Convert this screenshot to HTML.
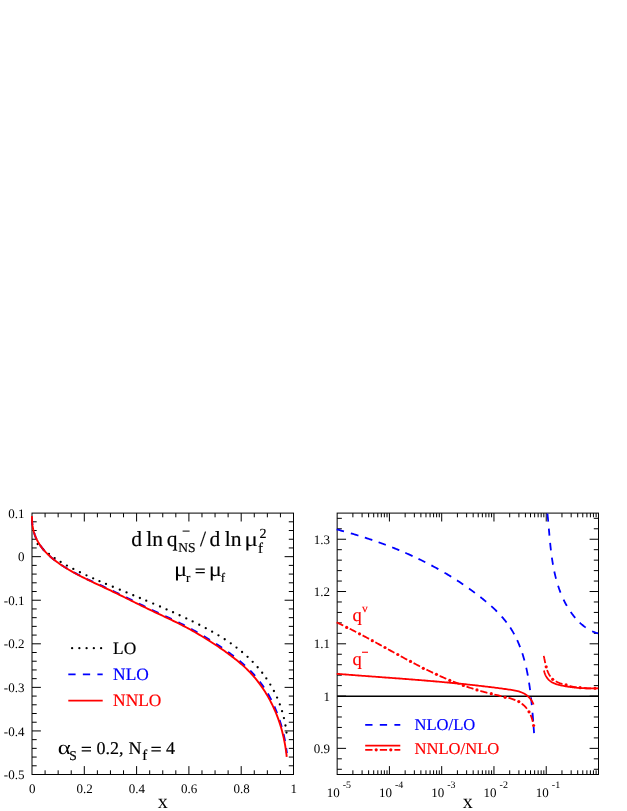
<!DOCTYPE html><html><head><meta charset="utf-8"><title>plot</title><style>
html,body{margin:0;padding:0;background:#fff;}svg{display:block;will-change:transform;}text{font-family:"Liberation Serif",serif;text-rendering:geometricPrecision;}
</style></head><body>
<svg width="627" height="811" viewBox="0 0 627 811">
<rect width="627" height="811" fill="#fff"/>
<g fill="none" stroke="#000" stroke-width="1">
<path d="M84.3 774.5v-8.4 M84.3 513.1v8.4M136.6 774.5v-8.4 M136.6 513.1v8.4M188.9 774.5v-8.4 M188.9 513.1v8.4M241.2 774.5v-8.4 M241.2 513.1v8.4M45.08 774.5v-4.2 M45.08 513.1v4.2M58.15 774.5v-4.2 M58.15 513.1v4.2M71.22 774.5v-4.2 M71.22 513.1v4.2M97.38 774.5v-4.2 M97.38 513.1v4.2M110.45 774.5v-4.2 M110.45 513.1v4.2M123.53 774.5v-4.2 M123.53 513.1v4.2M149.68 774.5v-4.2 M149.68 513.1v4.2M162.75 774.5v-4.2 M162.75 513.1v4.2M175.82 774.5v-4.2 M175.82 513.1v4.2M201.97 774.5v-4.2 M201.97 513.1v4.2M215.05 774.5v-4.2 M215.05 513.1v4.2M228.12 774.5v-4.2 M228.12 513.1v4.2M254.28 774.5v-4.2 M254.28 513.1v4.2M267.35 774.5v-4.2 M267.35 513.1v4.2M280.43 774.5v-4.2 M280.43 513.1v4.2M32 556.67h8.9 M293.5 556.67h-8.9M32 600.23h8.9 M293.5 600.23h-8.9M32 643.8h8.9 M293.5 643.8h-8.9M32 687.37h8.9 M293.5 687.37h-8.9M32 730.93h8.9 M293.5 730.93h-8.9M32 521.81h4.7 M293.5 521.81h-4.7M32 530.53h4.7 M293.5 530.53h-4.7M32 539.24h4.7 M293.5 539.24h-4.7M32 547.95h4.7 M293.5 547.95h-4.7M32 565.38h4.7 M293.5 565.38h-4.7M32 574.09h4.7 M293.5 574.09h-4.7M32 582.81h4.7 M293.5 582.81h-4.7M32 591.52h4.7 M293.5 591.52h-4.7M32 608.95h4.7 M293.5 608.95h-4.7M32 617.66h4.7 M293.5 617.66h-4.7M32 626.37h4.7 M293.5 626.37h-4.7M32 635.09h4.7 M293.5 635.09h-4.7M32 652.51h4.7 M293.5 652.51h-4.7M32 661.23h4.7 M293.5 661.23h-4.7M32 669.94h4.7 M293.5 669.94h-4.7M32 678.65h4.7 M293.5 678.65h-4.7M32 696.08h4.7 M293.5 696.08h-4.7M32 704.79h4.7 M293.5 704.79h-4.7M32 713.51h4.7 M293.5 713.51h-4.7M32 722.22h4.7 M293.5 722.22h-4.7M32 739.65h4.7 M293.5 739.65h-4.7M32 748.36h4.7 M293.5 748.36h-4.7M32 757.07h4.7 M293.5 757.07h-4.7M32 765.79h4.7 M293.5 765.79h-4.7"/>
<rect x="32" y="513.1" width="261.5" height="261.4"/>
<path d="M389.42 774.5v-8.4 M389.42 513.1v8.4M441.69 774.5v-8.4 M441.69 513.1v8.4M493.96 774.5v-8.4 M493.96 513.1v8.4M546.23 774.5v-8.4 M546.23 513.1v8.4M352.88 774.5v-4.2 M352.88 513.1v4.2M362.09 774.5v-4.2 M362.09 513.1v4.2M368.62 774.5v-4.2 M368.62 513.1v4.2M373.69 774.5v-4.2 M373.69 513.1v4.2M377.82 774.5v-4.2 M377.82 513.1v4.2M381.32 774.5v-4.2 M381.32 513.1v4.2M384.35 774.5v-4.2 M384.35 513.1v4.2M387.03 774.5v-4.2 M387.03 513.1v4.2M405.15 774.5v-4.2 M405.15 513.1v4.2M414.36 774.5v-4.2 M414.36 513.1v4.2M420.89 774.5v-4.2 M420.89 513.1v4.2M425.96 774.5v-4.2 M425.96 513.1v4.2M430.09 774.5v-4.2 M430.09 513.1v4.2M433.59 774.5v-4.2 M433.59 513.1v4.2M436.62 774.5v-4.2 M436.62 513.1v4.2M439.3 774.5v-4.2 M439.3 513.1v4.2M457.42 774.5v-4.2 M457.42 513.1v4.2M466.63 774.5v-4.2 M466.63 513.1v4.2M473.16 774.5v-4.2 M473.16 513.1v4.2M478.23 774.5v-4.2 M478.23 513.1v4.2M482.36 774.5v-4.2 M482.36 513.1v4.2M485.86 774.5v-4.2 M485.86 513.1v4.2M488.89 774.5v-4.2 M488.89 513.1v4.2M491.57 774.5v-4.2 M491.57 513.1v4.2M509.69 774.5v-4.2 M509.69 513.1v4.2M518.9 774.5v-4.2 M518.9 513.1v4.2M525.43 774.5v-4.2 M525.43 513.1v4.2M530.5 774.5v-4.2 M530.5 513.1v4.2M534.63 774.5v-4.2 M534.63 513.1v4.2M538.13 774.5v-4.2 M538.13 513.1v4.2M541.16 774.5v-4.2 M541.16 513.1v4.2M543.84 774.5v-4.2 M543.84 513.1v4.2M561.96 774.5v-4.2 M561.96 513.1v4.2M571.17 774.5v-4.2 M571.17 513.1v4.2M577.7 774.5v-4.2 M577.7 513.1v4.2M582.77 774.5v-4.2 M582.77 513.1v4.2M586.9 774.5v-4.2 M586.9 513.1v4.2M590.4 774.5v-4.2 M590.4 513.1v4.2M593.43 774.5v-4.2 M593.43 513.1v4.2M596.11 774.5v-4.2 M596.11 513.1v4.2M337.15 748.36h8.9 M598.5 748.36h-8.9M337.15 696.08h8.9 M598.5 696.08h-8.9M337.15 643.8h8.9 M598.5 643.8h-8.9M337.15 591.52h8.9 M598.5 591.52h-8.9M337.15 539.24h8.9 M598.5 539.24h-8.9M337.15 769.27h4.7 M598.5 769.27h-4.7M337.15 758.82h4.7 M598.5 758.82h-4.7M337.15 737.9h4.7 M598.5 737.9h-4.7M337.15 727.45h4.7 M598.5 727.45h-4.7M337.15 716.99h4.7 M598.5 716.99h-4.7M337.15 706.54h4.7 M598.5 706.54h-4.7M337.15 685.62h4.7 M598.5 685.62h-4.7M337.15 675.17h4.7 M598.5 675.17h-4.7M337.15 664.71h4.7 M598.5 664.71h-4.7M337.15 654.26h4.7 M598.5 654.26h-4.7M337.15 633.34h4.7 M598.5 633.34h-4.7M337.15 622.89h4.7 M598.5 622.89h-4.7M337.15 612.43h4.7 M598.5 612.43h-4.7M337.15 601.98h4.7 M598.5 601.98h-4.7M337.15 581.06h4.7 M598.5 581.06h-4.7M337.15 570.61h4.7 M598.5 570.61h-4.7M337.15 560.15h4.7 M598.5 560.15h-4.7M337.15 549.7h4.7 M598.5 549.7h-4.7M337.15 528.78h4.7 M598.5 528.78h-4.7M337.15 518.33h4.7 M598.5 518.33h-4.7"/>
<rect x="337.15" y="513.1" width="261.35" height="261.4"/>
</g>
<g font-size="13" fill="#000">
<text x="24.4" y="517.7" text-anchor="end">0.1</text>
<text x="24.4" y="561.27" text-anchor="end">0</text>
<text x="24.4" y="604.83" text-anchor="end">-0.1</text>
<text x="24.4" y="648.4" text-anchor="end">-0.2</text>
<text x="24.4" y="691.97" text-anchor="end">-0.3</text>
<text x="24.4" y="735.53" text-anchor="end">-0.4</text>
<text x="24.4" y="779.1" text-anchor="end">-0.5</text>
<text x="32.3" y="792.8" text-anchor="middle">0</text>
<text x="84.6" y="792.8" text-anchor="middle">0.2</text>
<text x="136.9" y="792.8" text-anchor="middle">0.4</text>
<text x="189.2" y="792.8" text-anchor="middle">0.6</text>
<text x="241.5" y="792.8" text-anchor="middle">0.8</text>
<text x="293.8" y="792.8" text-anchor="middle">1</text>
<text x="330" y="543.84" text-anchor="end">1.3</text>
<text x="330" y="596.12" text-anchor="end">1.2</text>
<text x="330" y="648.4" text-anchor="end">1.1</text>
<text x="330" y="700.68" text-anchor="end">1</text>
<text x="330" y="752.96" text-anchor="end">0.9</text>
<text x="326.75" y="796.5">10</text>
<text x="342.75" y="787.6" font-size="10">-5</text>
<text x="379.02" y="796.5">10</text>
<text x="395.02" y="787.6" font-size="10">-4</text>
<text x="431.29" y="796.5">10</text>
<text x="447.29" y="787.6" font-size="10">-3</text>
<text x="483.56" y="796.5">10</text>
<text x="499.56" y="787.6" font-size="10">-2</text>
<text x="535.83" y="796.5">10</text>
<text x="551.83" y="787.6" font-size="10">-1</text>
</g>
<text x="162.8" y="807.8" font-size="20" text-anchor="middle">x</text>
<text x="467.8" y="807.8" font-size="20" text-anchor="middle">x</text>
<g fill="#000">
<circle cx="37.63" cy="544.05" r="1.15"/>
<circle cx="43.1" cy="549.24" r="1.15"/>
<circle cx="48.95" cy="554.01" r="1.15"/>
<circle cx="54.67" cy="558.11" r="1.15"/>
<circle cx="60.63" cy="561.91" r="1.15"/>
<circle cx="66.92" cy="565.55" r="1.15"/>
<circle cx="73.31" cy="568.96" r="1.15"/>
<circle cx="79.92" cy="572.26" r="1.15"/>
<circle cx="86.48" cy="575.36" r="1.15"/>
<circle cx="93.15" cy="578.37" r="1.15"/>
<circle cx="99.47" cy="581.13" r="1.15"/>
<circle cx="105.99" cy="583.9" r="1.15"/>
<circle cx="112.8" cy="586.75" r="1.15"/>
<circle cx="119.8" cy="589.66" r="1.15"/>
<circle cx="126.53" cy="592.44" r="1.15"/>
<circle cx="133.27" cy="595.23" r="1.15"/>
<circle cx="139.87" cy="597.98" r="1.15"/>
<circle cx="146.26" cy="600.66" r="1.15"/>
<circle cx="153.2" cy="603.6" r="1.15"/>
<circle cx="160" cy="606.52" r="1.15"/>
<circle cx="166.55" cy="609.38" r="1.15"/>
<circle cx="173.03" cy="612.27" r="1.15"/>
<circle cx="179.57" cy="615.25" r="1.15"/>
<circle cx="186.27" cy="618.39" r="1.15"/>
<circle cx="192.64" cy="621.45" r="1.15"/>
<circle cx="199.24" cy="624.74" r="1.15"/>
<circle cx="205.75" cy="628.13" r="1.15"/>
<circle cx="212.14" cy="631.65" r="1.15"/>
<circle cx="218.46" cy="635.34" r="1.15"/>
<circle cx="224.7" cy="639.25" r="1.15"/>
<circle cx="230.79" cy="643.36" r="1.15"/>
<circle cx="236.51" cy="647.56" r="1.15"/>
<circle cx="242.07" cy="652" r="1.15"/>
<circle cx="247.55" cy="656.83" r="1.15"/>
<circle cx="252.68" cy="661.83" r="1.15"/>
<circle cx="257.64" cy="667.23" r="1.15"/>
<circle cx="262.19" cy="672.77" r="1.15"/>
<circle cx="266.32" cy="678.42" r="1.15"/>
<circle cx="270.31" cy="684.61" r="1.15"/>
<circle cx="273.91" cy="691.02" r="1.15"/>
<circle cx="277.08" cy="697.61" r="1.15"/>
<circle cx="279.82" cy="704.41" r="1.15"/>
<circle cx="282.06" cy="711.13" r="1.15"/>
<circle cx="283.94" cy="718.12" r="1.15"/>
<circle cx="285.46" cy="725.49" r="1.15"/>
<circle cx="286.5" cy="732.59" r="1.15"/>
</g>
<path d="M32.04 516.11L31.99 518.06L32.01 520L32.11 521.93L32.28 523.84L32.52 525.73L32.84 527.6L33.22 529.45L33.67 531.27L34.2 533.07L34.79 534.83L35.45 536.56L36.17 538.26L36.96 539.92L37.82 541.53L38.74 543.12L39.72 544.66L40.76 546.17L41.85 547.64L42.99 549.07L44.18 550.47L45.42 551.84L46.7 553.18L48.02 554.49L49.38 555.76L50.77 557.01L52.2 558.23L53.66 559.42L55.14 560.58L56.64 561.71L58.17 562.83L59.72 563.91L61.28 564.96L62.87 565.99L64.46 566.99L66.07 567.97L67.68 568.93L69.3 569.88L70.92 570.8L72.56 571.71L74.2 572.6L75.85 573.48L77.5 574.34L79.16 575.19L80.83 576.03L82.5 576.85L84.17 577.67L85.85 578.48L87.53 579.28L89.22 580.07L90.91 580.85L92.6 581.63L94.29 582.41L95.99 583.18L97.68 583.96L99.38 584.73L101.08 585.5L102.78 586.27L104.47 587.04L106.17 587.81L107.87 588.59L109.56 589.38L111.25 590.17L112.94 590.98L114.62 591.78L116.3 592.59L117.98 593.41L119.66 594.22L121.34 595.04L123.02 595.86L124.7 596.69L126.37 597.51L128.05 598.33L129.73 599.16L131.4 599.98L133.08 600.81L134.76 601.63L136.43 602.45L138.11 603.27L139.79 604.09L141.47 604.91L143.15 605.73L144.83 606.54L146.51 607.35L148.2 608.15L149.88 608.95L151.57 609.75L153.26 610.55L154.95 611.34L156.64 612.12L158.33 612.91L160.02 613.69L161.72 614.48L163.41 615.26L165.11 616.05L166.8 616.84L168.49 617.63L170.18 618.42L171.87 619.22L173.56 620.02L175.24 620.83L176.92 621.65L178.6 622.47L180.27 623.3L181.94 624.14L183.61 624.99L185.27 625.85L186.92 626.72L188.57 627.6L190.22 628.49L191.86 629.39L193.49 630.3L195.12 631.21L196.75 632.14L198.37 633.07L199.99 634.02L201.6 634.97L203.21 635.92L204.82 636.88L206.42 637.85L208.02 638.83L209.61 639.82L211.2 640.81L212.78 641.81L214.36 642.82L215.94 643.84L217.51 644.87L219.07 645.91L220.63 646.95L222.18 648.01L223.73 649.07L225.26 650.15L226.8 651.23L228.32 652.32L229.84 653.43L231.35 654.54L232.85 655.67L234.35 656.81L235.83 657.96L237.31 659.12L238.77 660.3L240.22 661.5L241.66 662.71L243.08 663.94L244.48 665.19L245.87 666.46L247.25 667.74L248.6 669.05L249.93 670.38L251.24 671.73L252.54 673.1L253.8 674.5L255.05 675.91L256.28 677.34L257.48 678.79L258.66 680.27L259.82 681.76L260.95 683.26L262.07 684.79L263.16 686.33L264.23 687.89L265.28 689.46L266.34 691.02L267.3 692.66L268.23 694.3L269.15 695.96L270.04 697.63L270.9 699.31L271.75 701L272.57 702.7L273.38 704.41L274.15 706.12L274.91 707.85L275.65 709.59L276.36 711.33L277.05 713.09L277.71 714.84L278.36 716.61L278.98 718.38L279.58 720.16L280.16 721.94L280.72 723.73L281.26 725.52L281.77 727.32L282.26 729.13L282.74 730.94L283.19 732.75L283.62 734.57L284.03 736.4L284.42 738.22L284.79 740.06L285.14 741.9L285.47 743.74L285.78 745.59L286.07 747.44L286.34 749.3L286.59 751.16L286.82 753.02" fill="none" stroke="#0000ff" stroke-width="2" stroke-dasharray="7.25 7.25" stroke-dashoffset="-1.7"/>
<path d="M32.04 516.11L31.99 518.06L32.01 520L32.11 521.93L32.28 523.84L32.52 525.73L32.84 527.6L33.22 529.45L33.67 531.27L34.2 533.07L34.79 534.83L35.45 536.56L36.17 538.26L36.96 539.92L37.82 541.53L38.74 543.12L39.72 544.66L40.76 546.17L41.85 547.64L42.99 549.07L44.18 550.47L45.42 551.84L46.7 553.18L48.02 554.49L49.38 555.76L50.77 557.01L52.2 558.23L53.66 559.42L55.14 560.58L56.64 561.71L58.17 562.83L59.72 563.91L61.28 564.98L62.85 566.02L64.43 567.04L66.03 568.03L67.63 569.01L69.24 569.97L70.86 570.92L72.48 571.84L74.12 572.75L75.76 573.64L77.4 574.53L79.06 575.39L80.71 576.25L82.38 577.09L84.04 577.93L85.71 578.75L87.39 579.57L89.07 580.38L90.75 581.19L92.43 581.99L94.12 582.78L95.8 583.57L97.49 584.36L99.18 585.15L100.87 585.94L102.56 586.73L104.25 587.52L105.94 588.31L107.62 589.11L109.31 589.91L110.99 590.72L112.67 591.53L114.35 592.34L116.03 593.15L117.71 593.97L119.38 594.8L121.06 595.62L122.73 596.45L124.41 597.27L126.08 598.1L127.75 598.93L129.43 599.76L131.1 600.59L132.77 601.42L134.45 602.25L136.12 603.08L137.8 603.91L139.47 604.73L141.15 605.56L142.83 606.38L144.51 607.2L146.19 608.01L147.87 608.83L149.55 609.63L151.24 610.44L152.93 611.24L154.62 612.04L156.31 612.83L158 613.62L159.69 614.41L161.38 615.2L163.07 615.99L164.76 616.78L166.45 617.58L168.14 618.37L169.82 619.17L171.51 619.98L173.19 620.78L174.87 621.6L176.54 622.42L178.21 623.25L179.88 624.08L181.54 624.93L183.2 625.78L184.85 626.64L186.5 627.52L188.14 628.4L189.78 629.29L191.41 630.19L193.04 631.1L194.66 632.02L196.28 632.95L197.9 633.89L199.51 634.83L201.11 635.79L202.71 636.75L204.31 637.72L205.9 638.7L207.48 639.69L209.07 640.68L210.65 641.68L212.22 642.69L213.79 643.71L215.35 644.73L216.91 645.77L218.46 646.81L220 647.86L221.54 648.92L223.08 649.99L224.6 651.07L226.12 652.16L227.64 653.26L229.14 654.37L230.64 655.49L232.13 656.62L233.61 657.76L235.08 658.91L236.53 660.08L237.98 661.26L239.41 662.46L240.83 663.67L242.23 664.89L243.62 666.14L244.99 667.4L246.34 668.68L247.67 669.98L248.98 671.31L250.27 672.65L251.54 674.01L252.79 675.4L254.02 676.8L255.22 678.22L256.4 679.66L257.56 681.12L258.7 682.6L259.82 684.1L260.91 685.61L261.99 687.14L263.04 688.69L264.07 690.25L265.08 691.82L266.06 693.41L267.02 695.02L267.96 696.63L268.88 698.27L269.78 699.91L270.65 701.57L271.5 703.23L272.33 704.91L273.14 706.6L273.92 708.3L274.69 710.01L275.42 711.73L276.14 713.45L276.83 715.19L277.5 716.93L278.15 718.68L278.77 720.44L279.38 722.2L279.95 723.98L280.51 725.75L281.05 727.54L281.56 729.32L282.05 731.12L282.52 732.92L282.96 734.73L283.39 736.54L283.8 738.36L284.18 740.18L284.54 742.01L284.89 743.85L285.21 745.69L285.51 747.53L285.79 749.38L286.06 751.23L286.3 753.09L286.52 754.95L286.72 756.82" fill="none" stroke="#ff0000" stroke-width="1.9"/>
<g fill="#000">
<circle cx="72.1" cy="648.2" r="1.15"/>
<circle cx="79.35" cy="648.2" r="1.15"/>
<circle cx="86.6" cy="648.2" r="1.15"/>
<circle cx="93.85" cy="648.2" r="1.15"/>
<circle cx="101.1" cy="648.2" r="1.15"/>
</g>
<path d="M68.3 674.4H102.7" stroke="#0000ff" stroke-width="1.9" stroke-dasharray="7.3 7.25" fill="none"/>
<path d="M68.3 700.6H102.7" stroke="#ff0000" stroke-width="1.9" fill="none"/>
<text x="113.1" y="654.1" font-size="17.4" fill="#000" stroke="#000" stroke-width="0.18">LO</text>
<text x="113.1" y="680" font-size="17.4" fill="#0000ff" stroke="#0000ff" stroke-width="0.18">NLO</text>
<text x="113.1" y="706.3" font-size="17.4" fill="#ff0000" stroke="#ff0000" stroke-width="0.18">NNLO</text>
<g fill="#000" font-size="21.5" stroke="#000" stroke-width="0.18">
<text x="131.2" y="546.3">d</text>
<text x="146.3" y="546.3">ln</text>
<text x="166.8" y="546.3">q</text>
<text x="199.9" y="546.3">/</text>
<text x="209.4" y="546.3">d</text>
<text x="224.8" y="546.3">ln</text>
<text stroke="none" transform="translate(244.33 546.1) scale(1.2 1)">μ</text>
<text x="178.3" y="551.5" font-size="13.5">NS</text>
<text x="258" y="553.2" font-size="15">f</text>
<text x="259.4" y="538" font-size="14">2</text>
</g>
<path d="M182.6 531.1H189.6" stroke="#000" stroke-width="1"/>
<g fill="#000" font-size="20.5" stroke="#000" stroke-width="0.18">
<text stroke="none" transform="translate(174 576) scale(1.2 1)">μ</text>
<text x="186.1" y="582" font-size="13">r</text>
<path d="M195.6 569.2H204.8M195.6 572.6H204.8" stroke="#000" stroke-width="1.25"/>
<text stroke="none" transform="translate(208.7 576) scale(1.2 1)">μ</text>
<text x="220.7" y="582" font-size="13">f</text>
</g>
<g fill="#000" font-size="18" stroke="#000" stroke-width="0.18">
<text stroke="none" transform="translate(57.7 754.1) scale(1.27 1)" font-size="19.5">α</text>
<text x="69.3" y="760.4" font-size="13.5">S</text>
<path d="M81.7 747.4H91M81.7 750.9H91" stroke="#000" stroke-width="1.25"/>
<text x="96.5" y="754.1">0.2,</text>
<text x="128.4" y="754.1">N</text>
<text x="142.2" y="760.3" font-size="15">f</text>
<path d="M151.4 747.4H160.8M151.4 750.9H160.8" stroke="#000" stroke-width="1.25"/>
<text x="165.9" y="754.1">4</text>
</g>
<path d="M337.15 696.25H598.5" stroke="#000" stroke-width="1.5"/>
<path d="M336.66 529.41L337.71 529.68L338.75 529.96L339.8 530.24L340.84 530.52L341.89 530.8L342.93 531.08L343.98 531.37M350.82 533.3L351.9 533.62L352.99 533.93L354.07 534.26L355.16 534.58L356.24 534.91L357.33 535.24L358.41 535.57M364.83 537.59L365.9 537.93L366.97 538.28L368.04 538.64L369.11 538.99L370.17 539.35L371.24 539.71L372.31 540.07M378.58 542.26L379.61 542.63L380.64 543L381.68 543.38L382.71 543.76L383.74 544.14L384.77 544.52L385.8 544.91M392.17 547.37L393.2 547.77L394.22 548.18L395.25 548.6L396.27 549.01L397.29 549.43L398.31 549.85L399.33 550.27M405.28 552.8L406.32 553.26L407.37 553.72L408.41 554.19L409.46 554.65L410.5 555.12L411.54 555.6L412.58 556.07M418.49 558.85L419.46 559.32L420.44 559.79L421.42 560.27L422.39 560.75L423.36 561.23L424.33 561.72L425.3 562.21M431.37 565.35L432.38 565.88L433.38 566.42L434.38 566.96L435.38 567.51L436.38 568.05L437.37 568.6L438.37 569.16M444.51 572.67L445.47 573.24L446.43 573.8L447.38 574.37L448.34 574.95L449.29 575.53L450.24 576.11L451.19 576.69M457 580.37L457.9 580.95L458.79 581.53L459.68 582.12L460.57 582.71L461.45 583.3L462.34 583.89L463.22 584.49M469.03 588.55L469.88 589.15L470.72 589.76L471.56 590.37L472.4 590.99L473.24 591.61L474.08 592.23L474.91 592.85M480.39 597.07L481.23 597.73L482.06 598.39L482.89 599.05L483.71 599.72L484.54 600.4L485.35 601.07L486.17 601.75M491.28 606.18L492.11 606.93L492.93 607.68L493.74 608.44L494.55 609.2L495.35 609.97L496.15 610.75L496.93 611.53M501.7 616.56L502.42 617.38L503.14 618.21L503.85 619.04L504.54 619.88L505.23 620.73L505.91 621.58L506.58 622.44M510.24 627.58L510.85 628.51L511.45 629.46L512.04 630.41L512.61 631.37L513.17 632.34L513.72 633.32L514.27 634.3M517.19 640.16L517.63 641.13L518.07 642.11L518.49 643.09L518.91 644.07L519.31 645.06L519.71 646.06L520.1 647.06M522.31 653.31L522.64 654.33L522.96 655.35L523.27 656.37L523.58 657.39L523.88 658.42L524.17 659.44L524.45 660.47M526.25 667.71L526.5 668.84L526.74 669.96L526.98 671.09L527.21 672.21L527.43 673.34L527.65 674.47L527.86 675.6M529.06 682.7L529.22 683.76L529.38 684.82L529.53 685.88L529.68 686.95L529.83 688.01L529.97 689.07L530.11 690.13M530.99 697.43L531.11 698.52L531.23 699.61L531.35 700.7L531.46 701.8L531.58 702.89L531.69 703.98L531.8 705.07M532.51 712.73L532.61 713.96L532.72 715.18L532.82 716.4L532.92 717.63L533.02 718.85L533.11 720.08L533.21 721.3M533.63 726.98L533.69 727.87L533.75 728.75L533.82 729.63L533.88 730.52L533.94 731.4L534 732.28L534.06 733.17" fill="none" stroke="#0000ff" stroke-width="1.8"/>
<path d="M547.44 513.51L547.56 514.66L547.67 515.82L547.79 516.97L547.9 518.12L548.01 519.28L548.12 520.43L548.22 521.59M548.84 528.59L548.93 529.59L549.01 530.59L549.1 531.59L549.19 532.59L549.27 533.59L549.36 534.6L549.45 535.6M550.13 542.9L550.24 543.96L550.35 545.02L550.46 546.09L550.57 547.15L550.69 548.21L550.81 549.27L550.93 550.33M551.87 557.62L552.02 558.64L552.17 559.65L552.32 560.67L552.48 561.69L552.65 562.7L552.82 563.72L552.99 564.73M554.3 571.47L554.52 572.5L554.75 573.54L554.99 574.57L555.24 575.59L555.49 576.62L555.75 577.65L556.01 578.67M558.12 585.84L558.43 586.81L558.76 587.78L559.09 588.74L559.44 589.7L559.79 590.66L560.15 591.62L560.52 592.57M563.55 599.59L564 600.5L564.45 601.41L564.91 602.32L565.38 603.22L565.86 604.11L566.35 605L566.85 605.88M570.68 611.96L571.3 612.83L571.92 613.69L572.56 614.55L573.22 615.4L573.88 616.23L574.56 617.06L575.24 617.88M579.7 622.59L580.51 623.35L581.35 624.09L582.19 624.82L583.06 625.53L583.93 626.22L584.82 626.89L585.73 627.54M592.18 631.24L593 631.61L593.83 631.96L594.68 632.29L595.53 632.6L596.39 632.89L597.27 633.16L598.15 633.42" fill="none" stroke="#0000ff" stroke-width="1.8"/>
<path d="M336.68 673.81L337.96 673.91L339.24 674.01L340.52 674.12L341.8 674.22L343.08 674.32L344.36 674.42L345.64 674.52L346.93 674.62L348.21 674.71L349.49 674.81L350.76 674.91L352.04 675.01L353.32 675.11L354.6 675.2L355.88 675.3L357.16 675.4L358.44 675.49L359.72 675.59L361 675.68L362.27 675.78L363.55 675.87L364.83 675.97L366.11 676.06L367.38 676.16L368.66 676.25L369.94 676.35L371.21 676.44L372.49 676.54L373.77 676.63L375.04 676.72L376.32 676.82L377.59 676.91L378.87 677.01L380.14 677.1L381.42 677.19L382.7 677.29L383.97 677.38L385.25 677.48L386.52 677.57L387.8 677.67L389.07 677.76L390.34 677.85L391.62 677.95L392.89 678.04L394.17 678.14L395.44 678.23L396.72 678.33L397.99 678.43L399.26 678.52L400.54 678.62L401.81 678.71L403.08 678.81L404.36 678.91L405.63 679.01L406.9 679.1L408.18 679.2L409.45 679.3L410.72 679.4L412 679.5L413.27 679.6L414.54 679.7L415.81 679.8L417.09 679.9L418.36 680L419.63 680.1L420.91 680.21L422.18 680.31L423.45 680.41L424.72 680.52L426 680.62L427.27 680.73L428.54 680.84L429.81 680.94L431.09 681.05L432.36 681.16L433.63 681.27L434.9 681.38L436.18 681.49L437.45 681.6L438.72 681.71L439.99 681.82L441.27 681.94L442.54 682.05L443.81 682.17L445.08 682.28L446.36 682.4L447.63 682.52L448.9 682.64L450.17 682.76L451.45 682.88L452.72 683L453.99 683.12L455.27 683.24L456.54 683.37L457.81 683.49L459.08 683.62L460.36 683.75L461.63 683.88L462.9 684.01L464.18 684.14L465.45 684.27L466.72 684.4L468 684.54L469.27 684.67L470.55 684.81L471.82 684.95L473.09 685.08L474.37 685.22L475.64 685.37L476.92 685.51L478.19 685.65L479.47 685.8L480.74 685.94L482.01 686.09L483.29 686.24L484.56 686.39L485.84 686.54L487.12 686.7L488.39 686.85L489.67 687.01L490.94 687.17L492.22 687.32L493.49 687.48L494.77 687.65L496.05 687.81L497.32 687.98L498.6 688.14L499.88 688.31L501.15 688.48L502.43 688.65L503.71 688.82L504.99 689L506.26 689.17L507.54 689.35L508.82 689.53L510.1 689.71L511.37 689.9L512.64 690.1L513.91 690.32L515.16 690.56L516.41 690.82L517.63 691.12L518.84 691.45L520.04 691.82L521.2 692.24L522.35 692.71L523.47 693.23L524.56 693.81L525.62 694.46L526.64 695.18L527.63 695.98L528.58 696.85L529.48 697.79L530.33 698.8L531.12 699.86L531.85 700.97L532.51 702.12L533.09 703.3L533.58 704.51" fill="none" stroke="#ff0000" stroke-width="1.8"/>
<path d="M544.01 670.56L544.09 670.94L544.17 671.32L544.27 671.7L544.37 672.08L544.48 672.46L544.6 672.83L544.72 673.21L544.86 673.58L545 673.95L545.15 674.32L545.31 674.68L545.48 675.04L545.65 675.4L545.83 675.76L546.02 676.11L546.22 676.45L546.42 676.79L546.63 677.13L546.85 677.46L547.07 677.78L547.3 678.1L547.54 678.41L547.78 678.72L548.03 679.01L548.29 679.3L548.55 679.59L548.82 679.86L549.09 680.13L549.37 680.39L549.66 680.64L549.95 680.88L550.25 681.11L550.55 681.34L550.86 681.56L551.17 681.77L551.48 681.97L551.81 682.17L552.13 682.35L552.46 682.54L552.8 682.71L553.13 682.88L553.47 683.05L553.82 683.2L554.17 683.35L554.52 683.5L554.88 683.64L555.23 683.78L555.6 683.91L555.96 684.03L556.33 684.16L556.69 684.27L557.06 684.39L557.44 684.5L557.81 684.6L558.19 684.71L558.57 684.81L558.94 684.9L559.32 684.99L559.71 685.09L560.09 685.17L560.47 685.26L560.85 685.34L561.24 685.43L561.62 685.51L562.01 685.59L562.39 685.66L562.78 685.74L563.16 685.82L563.54 685.89L563.93 685.96L564.31 686.03L564.7 686.11L565.08 686.17L565.46 686.24L565.85 686.31L566.23 686.37L566.62 686.44L567 686.5L567.38 686.56L567.77 686.63L568.15 686.69L568.54 686.74L568.92 686.8L569.3 686.86L569.69 686.91L570.07 686.97L570.45 687.02L570.84 687.07L571.22 687.12L571.61 687.17L571.99 687.22L572.37 687.27L572.76 687.31L573.14 687.36L573.53 687.4L573.91 687.44L574.29 687.49L574.68 687.53L575.06 687.57L575.45 687.6L575.83 687.64L576.21 687.68L576.6 687.71L576.98 687.75L577.37 687.78L577.75 687.81L578.14 687.85L578.52 687.88L578.9 687.91L579.29 687.93L579.67 687.96L580.06 687.99L580.44 688.01L580.83 688.04L581.21 688.06L581.6 688.08L581.98 688.11L582.37 688.13L582.75 688.15L583.13 688.17L583.52 688.18L583.9 688.2L584.29 688.22L584.67 688.23L585.06 688.25L585.45 688.26L585.83 688.27L586.22 688.29L586.6 688.3L586.99 688.31L587.37 688.32L587.76 688.32L588.14 688.33L588.53 688.34L588.92 688.34L589.3 688.35L589.69 688.35L590.07 688.36L590.46 688.36L590.85 688.36L591.23 688.36L591.62 688.36L592.01 688.36L592.39 688.36L592.78 688.36L593.17 688.36L593.55 688.35L593.94 688.35L594.33 688.34L594.71 688.34L595.1 688.33L595.49 688.33L595.88 688.32L596.26 688.31L596.65 688.3L597.04 688.29L597.43 688.28L597.82 688.27L598.2 688.26" fill="none" stroke="#ff0000" stroke-width="1.8"/>
<path d="M336.66 622.41L337.96 623.02L339.26 623.63L340.55 624.25L341.85 624.87L343.14 625.49L344.43 626.12L345.72 626.75L347.01 627.38L348.29 628.02L349.57 628.67L350.86 629.31L352.14 629.96L353.42 630.62L354.69 631.27L355.97 631.93L357.24 632.59L358.52 633.26L359.79 633.92L361.06 634.59L362.33 635.27L363.6 635.94L364.87 636.62L366.14 637.29L367.4 637.98L368.67 638.66L369.93 639.34L371.2 640.03L372.46 640.71L373.72 641.4L374.99 642.09L376.25 642.78L377.51 643.47L378.77 644.16L380.03 644.86L381.29 645.55L382.55 646.24L383.81 646.94L385.07 647.63L386.33 648.33L387.59 649.02L388.85 649.72L390.11 650.41L391.37 651.11L392.63 651.8L393.9 652.49L395.16 653.18L396.42 653.87L397.68 654.56L398.94 655.25L400.21 655.94L401.47 656.63L402.73 657.31L404 658L405.27 658.68L406.53 659.36L407.8 660.04L409.07 660.71L410.34 661.39L411.61 662.06L412.88 662.73L414.15 663.39L415.43 664.06L416.7 664.72L417.98 665.38L419.26 666.03L420.54 666.69L421.82 667.34L423.1 667.98L424.38 668.62L425.67 669.26L426.96 669.9L428.25 670.53L429.54 671.16L430.83 671.78L432.12 672.4L433.42 673.01L434.72 673.62L436.02 674.23L437.32 674.83L438.63 675.42L439.93 676.02L441.24 676.6L442.56 677.18L443.87 677.76L445.19 678.33L446.51 678.89L447.83 679.45L449.15 680L450.48 680.55L451.81 681.09L453.14 681.63L454.48 682.16L455.82 682.68L457.16 683.2L458.5 683.71L459.84 684.21L461.19 684.71L462.54 685.2L463.9 685.69L465.25 686.16L466.61 686.63L467.97 687.1L469.33 687.56L470.7 688.01L472.07 688.45L473.44 688.88L474.81 689.31L476.19 689.73L477.56 690.15L478.94 690.55L480.33 690.95L481.71 691.34L483.1 691.73L484.49 692.1L485.88 692.47L487.27 692.83L488.67 693.18L490.07 693.52L491.47 693.86L492.87 694.19L494.27 694.51L495.68 694.83L497.09 695.14L498.5 695.46L499.91 695.77L501.32 696.09L502.74 696.41L504.15 696.75L505.57 697.08L506.99 697.44L508.4 697.8L509.81 698.19L511.2 698.61L512.58 699.05L513.94 699.54L515.28 700.06L516.58 700.63L517.86 701.25L519.1 701.93L520.3 702.67L521.45 703.46L522.56 704.32L523.63 705.22L524.65 706.19L525.62 707.2L526.54 708.27L527.41 709.39L528.22 710.56L528.97 711.77L529.67 713.03L530.31 714.33L530.89 715.66L531.42 717.03L531.89 718.42L532.31 719.83L532.68 721.26L533 722.71L533.27 724.15L533.5 725.6" fill="none" stroke="#ff0000" stroke-width="1.8" stroke-dasharray="7.3 7.2"/>
<path d="M543.8 655.92L543.89 656.33L543.97 656.75L544.06 657.16L544.14 657.59L544.23 658.02L544.31 658.45L544.4 658.88L544.49 659.32L544.57 659.76L544.66 660.21L544.75 660.65L544.84 661.1L544.93 661.56L545.02 662.01L545.12 662.46L545.22 662.92L545.32 663.38L545.42 663.84L545.52 664.3L545.63 664.76L545.74 665.21L545.85 665.67L545.97 666.13L546.09 666.59L546.21 667.05L546.34 667.5L546.47 667.96L546.61 668.41L546.75 668.86L546.9 669.3L547.05 669.75L547.21 670.19L547.37 670.63L547.53 671.06L547.71 671.5L547.89 671.92L548.07 672.35L548.26 672.76L548.46 673.18L548.66 673.59L548.87 673.99L549.09 674.39L549.32 674.78L549.55 675.17L549.79 675.55L550.04 675.92L550.3 676.29L550.56 676.65L550.84 677L551.12 677.34L551.41 677.68L551.71 678.01L552.01 678.33L552.33 678.64L552.65 678.94L552.98 679.24L553.32 679.53L553.67 679.81L554.02 680.08L554.38 680.35L554.74 680.6L555.12 680.85L555.5 681.09L555.88 681.32L556.27 681.54L556.67 681.76L557.07 681.96L557.48 682.16L557.89 682.36L558.31 682.54L558.73 682.72L559.15 682.9L559.57 683.06L560 683.23L560.43 683.39L560.87 683.54L561.3 683.69L561.74 683.84L562.17 683.99L562.61 684.13L563.05 684.27L563.48 684.41L563.92 684.54L564.36 684.67L564.8 684.8L565.24 684.93L565.68 685.05L566.12 685.17L566.56 685.29L567.01 685.41L567.45 685.52L567.89 685.63L568.34 685.74L568.78 685.85L569.23 685.95L569.67 686.06L570.12 686.15L570.56 686.25L571.01 686.35L571.45 686.44L571.9 686.53L572.35 686.62L572.8 686.7L573.25 686.78L573.69 686.86L574.14 686.94L574.59 687.02L575.04 687.09L575.49 687.16L575.94 687.23L576.39 687.3L576.84 687.36L577.3 687.43L577.75 687.49L578.2 687.55L578.65 687.6L579.1 687.66L579.56 687.71L580.01 687.76L580.46 687.81L580.91 687.85L581.37 687.9L581.82 687.94L582.28 687.98L582.73 688.02L583.18 688.05L583.64 688.09L584.09 688.12L584.55 688.15L585 688.18L585.46 688.2L585.91 688.23L586.37 688.25L586.82 688.27L587.28 688.29L587.73 688.31L588.19 688.32L588.64 688.34L589.1 688.35L589.55 688.36L590.01 688.37L590.46 688.37L590.92 688.38L591.37 688.38L591.83 688.38L592.28 688.38L592.74 688.38L593.19 688.38L593.65 688.37L594.11 688.37L594.56 688.36L595.01 688.35L595.47 688.34L595.92 688.32L596.38 688.31L596.83 688.29L597.29 688.28L597.74 688.26L598.2 688.24" fill="none" stroke="#ff0000" stroke-width="1.8" stroke-dasharray="7.3 7.2"/>
<g fill="#ff0000">
<circle cx="346.7" cy="627.4" r="1.6"/>
<circle cx="359.5" cy="633.8" r="1.6"/>
<circle cx="372.3" cy="640.7" r="1.6"/>
<circle cx="385" cy="647.5" r="1.6"/>
<circle cx="397.8" cy="654.5" r="1.6"/>
<circle cx="410.5" cy="661.4" r="1.6"/>
<circle cx="423.3" cy="668.3" r="1.6"/>
<circle cx="436.45" cy="674.3" r="1.6"/>
<circle cx="449.8" cy="680.4" r="1.6"/>
<circle cx="463.35" cy="685.5" r="1.6"/>
<circle cx="477" cy="689.9" r="1.6"/>
<circle cx="491.3" cy="693.7" r="1.6"/>
<circle cx="505.1" cy="697.3" r="1.6"/>
<circle cx="518.8" cy="701.6" r="1.6"/>
<circle cx="529" cy="711.8" r="1.6"/>
<circle cx="533.6" cy="725.5" r="1.6"/>
<circle cx="546.2" cy="666.8" r="1.6"/>
<circle cx="552.7" cy="679.3" r="1.6"/>
<circle cx="566.1" cy="684.9" r="1.6"/>
<circle cx="580.1" cy="687.7" r="1.6"/>
<circle cx="595" cy="688.3" r="1.6"/>
</g>
<g fill="#ff0000" stroke="#ff0000" stroke-width="0.18">
<text x="352.4" y="620.9" font-size="18.5">q</text>
<text x="361.9" y="612" font-size="11.5">v</text>
<text x="352.4" y="664.8" font-size="18.5">q</text>
</g>
<path d="M362 652.25H368" stroke="#ff0000" stroke-width="1.1"/>
<path d="M365.2 724.9H400.3" stroke="#0000ff" stroke-width="1.9" stroke-dasharray="7.3 7.3" fill="none"/>
<path d="M365.2 745.7H400.3" stroke="#ff0000" stroke-width="1.8" fill="none"/>
<path d="M365.2 749.8H400.3" stroke="#ff0000" stroke-width="1.8" stroke-dasharray="7.3 7.3" fill="none"/>
<circle cx="376.2" cy="749.8" r="1.6" fill="#ff0000"/><circle cx="390.8" cy="749.8" r="1.6" fill="#ff0000"/>
<text x="414.5" y="730.3" font-size="16.6" fill="#0000ff" stroke="#0000ff" stroke-width="0.18">NLO/LO</text>
<text x="414.5" y="753.6" font-size="16.6" fill="#ff0000" stroke="#ff0000" stroke-width="0.18">NNLO/NLO</text>
</svg></body></html>
